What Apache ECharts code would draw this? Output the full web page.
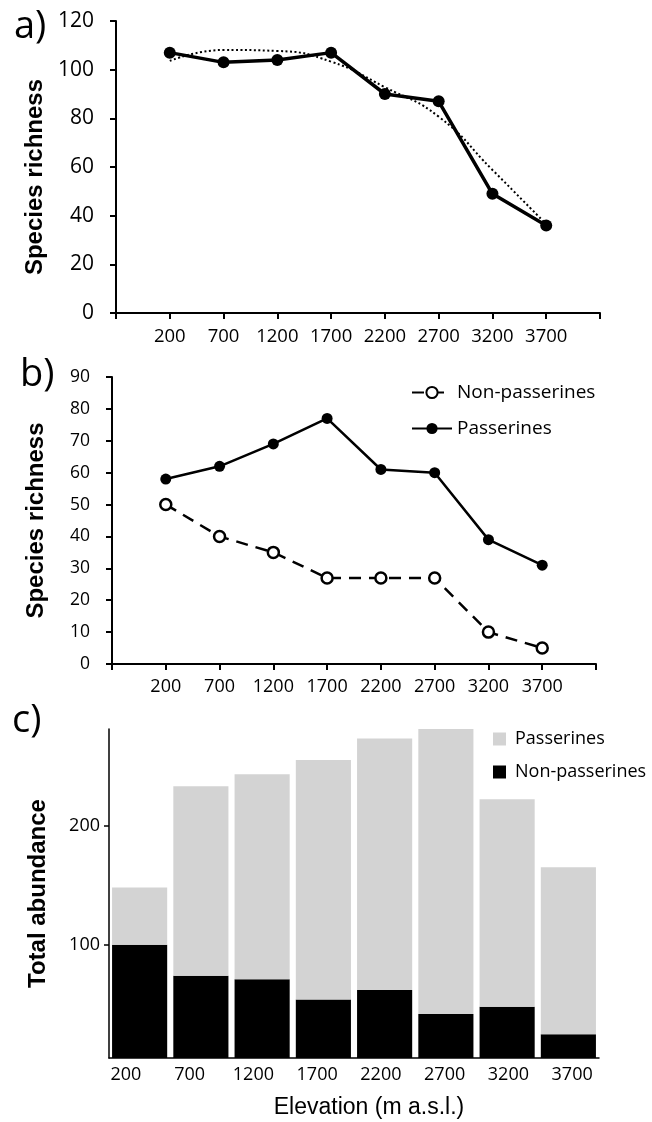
<!DOCTYPE html>
<html>
<head>
<meta charset="utf-8">
<script src="https://cdn.jsdelivr.net/npm/echarts@6/dist/echarts.min.js"></script>
<style>
html, body { margin: 0; padding: 0; background: #fff; }
#chart { width: 652px; height: 1122px; }
</style>
</head>
<body>
<div id="chart"></div>
<script>
// elevation bands (m a.s.l.)
var elevations = ['200', '700', '1200', '1700', '2200', '2700', '3200', '3700'];

// a) overall species richness and the fitted trend (dotted)
var richnessTotal = [107, 103, 104, 107, 90, 87, 49, 36];
var richnessTrend = [103.6, 108.1, 107.7, 103.3, 92.8, 80.7, 58.8, 36.5];

// b) richness split by group
var richPasserines = [58, 62, 69, 77, 61, 60, 39, 31];
var richNonPasserines = [50, 40, 35, 27, 27, 27, 10, 5];

// c) abundance split by group (stacked)
var abundNonPasserines = [100, 74, 71, 54, 62, 42, 48, 25];
var abundPasserines = [48, 159, 172, 201, 211, 239, 174, 140];
var abundTicks = [100, 200];

var FONT = 'Open Sans';
var TITLE_FONT = 'Liberation Sans';

// point i sits on slot i+1 of a 0..9 axis
function toXY(vals) {
    return vals.map(function(v, i) { return [i + 1, v]; });
}
function slotLabel(v) {
    return elevations[v - 1] || '';
}

function lineX(grid, size) {
    return {
        gridIndex: grid, type: 'value', min: 0, max: 9, interval: 1,
        axisLine: {show: true, lineStyle: {color: '#000', width: 2}},
        axisTick: {show: true, length: 6, lineStyle: {color: '#000', width: 2}},
        axisLabel: {formatter: slotLabel, color: '#000', fontSize: size, fontFamily: FONT, margin: 14},
        splitLine: {show: false}
    };
}
function lineY(grid, max, step, size, gap, pad) {
    return {
        gridIndex: grid, type: 'value', min: 0, max: max, interval: step,
        axisLine: {show: true, lineStyle: {color: '#000', width: 2}},
        axisTick: {show: true, length: 6, lineStyle: {color: '#000', width: 2}},
        axisLabel: {color: '#000', fontSize: size, fontFamily: FONT, margin: 22},
        splitLine: {show: false},
        name: 'Species richness', nameLocation: 'middle', nameGap: gap,
        nameTextStyle: {color: '#000', fontFamily: TITLE_FONT, fontWeight: 'bold', fontSize: 24, padding: pad}
    };
}

var chart = echarts.init(document.getElementById('chart'));
var option = {
    backgroundColor: '#fff',
    animation: false,
    graphic: [
        {type: 'text', left: 14, top: 8, style: {text: 'a)', font: '38px "Open Sans"', fill: '#000'}},
        {type: 'text', left: 20, top: 356, style: {text: 'b)', font: '38px "Open Sans"', fill: '#000'}},
        {type: 'text', left: 12, top: 702, style: {text: 'c)', font: '38px "Open Sans"', fill: '#000'}}
    ],
    grid: [
        {left: 116, right: 52, top: 21, bottom: 809},
        {left: 112, right: 56, top: 377, bottom: 458},
        {left: 109, right: 53, top: 729, bottom: 64},
        {left: 94, right: 48, top: 729, bottom: 64} // label strip for c)
    ],
    legend: [
        {
            orient: 'vertical', left: 411, top: 383, padding: 0,
            itemWidth: 40, itemHeight: 14, itemGap: 17,
            selectedMode: false, data: ['Non-passerines', 'Passerines'],
            textStyle: {color: '#000', fontSize: 19, fontFamily: FONT}
        },
        {
            orient: 'vertical', left: 493, top: 730, padding: 0,
            itemWidth: 13, itemHeight: 13, itemGap: 15,
            icon: 'rect', selectedMode: false,
            data: ['Passerines abundance', 'Non-passerines abundance'],
            formatter: function(n) { return n.replace(' abundance', ''); },
            textStyle: {color: '#000', fontSize: 18, fontFamily: FONT, padding: [0, 0, 0, 4]}
        }
    ],
    xAxis: [
        lineX(0, 18.5),
        lineX(1, 18),
        {
            gridIndex: 2, type: 'category', data: elevations,
            axisLine: {lineStyle: {color: '#000', width: 1.5}},
            axisTick: {show: false}, axisLabel: {show: false}
        },
        {
            gridIndex: 3, type: 'category', data: elevations,
            axisLine: {show: false},
            axisTick: {alignWithLabel: true, length: 5, lineStyle: {color: '#000', width: 1.5}},
            axisLabel: {color: '#000', fontSize: 18, fontFamily: FONT, margin: 8},
            name: 'Elevation (m a.s.l.)', nameLocation: 'middle', nameGap: 38,
            nameTextStyle: {color: '#000', fontFamily: TITLE_FONT, fontSize: 23, padding: [0, 0, 0, 40]}
        }
    ],
    yAxis: [
        lineY(0, 120, 20, 21, 68, [0, 20, 0, 0]),
        lineY(1, 90, 10, 17.5, 64, [0, 0, 0, 0]),
        {
            gridIndex: 2, type: 'value', min: 5, max: 281,
            axisLine: {show: true, lineStyle: {color: '#000', width: 1.5}},
            axisTick: {show: true, length: 5, customValues: abundTicks, lineStyle: {color: '#000', width: 1.5}},
            axisLabel: {color: '#000', fontSize: 18, fontFamily: FONT, margin: 9, customValues: abundTicks},
            splitLine: {show: false},
            name: 'Total abundance', nameLocation: 'middle', nameGap: 59,
            nameTextStyle: {color: '#000', fontFamily: TITLE_FONT, fontWeight: 'bold', fontSize: 24}
        },
        {gridIndex: 3, type: 'value', show: false, min: 0, max: 1}
    ],
    series: [
        {
            name: 'Trend', type: 'line', xAxisIndex: 0, yAxisIndex: 0,
            data: toXY(richnessTrend), smooth: true, showSymbol: false, silent: true,
            lineStyle: {color: '#000', width: 2, type: [2, 2.5]}
        },
        {
            name: 'Total', type: 'line', xAxisIndex: 0, yAxisIndex: 0,
            data: toXY(richnessTotal), symbol: 'circle', symbolSize: 12,
            lineStyle: {color: '#000', width: 3.5}, itemStyle: {color: '#000'}
        },
        {
            name: 'Non-passerines', type: 'line', xAxisIndex: 1, yAxisIndex: 1,
            data: toXY(richNonPasserines), symbol: 'circle', symbolSize: 11,
            lineStyle: {color: '#000', width: 2.5, type: [12, 8]},
            itemStyle: {color: '#fff', borderColor: '#000', borderWidth: 2.5}
        },
        {
            name: 'Passerines', type: 'line', xAxisIndex: 1, yAxisIndex: 1,
            data: toXY(richPasserines), symbol: 'circle', symbolSize: 11,
            lineStyle: {color: '#000', width: 2.5}, itemStyle: {color: '#000'}
        },
        {
            name: 'Non-passerines abundance', type: 'bar', stack: 'abund', xAxisIndex: 2, yAxisIndex: 2,
            data: abundNonPasserines, barCategoryGap: '10%', itemStyle: {color: '#000'}
        },
        {
            name: 'Passerines abundance', type: 'bar', stack: 'abund', xAxisIndex: 2, yAxisIndex: 2,
            data: abundPasserines, barCategoryGap: '10%', itemStyle: {color: '#d3d3d3'}
        }
    ]
};
chart.setOption(option);
</script>
</body>
</html>
